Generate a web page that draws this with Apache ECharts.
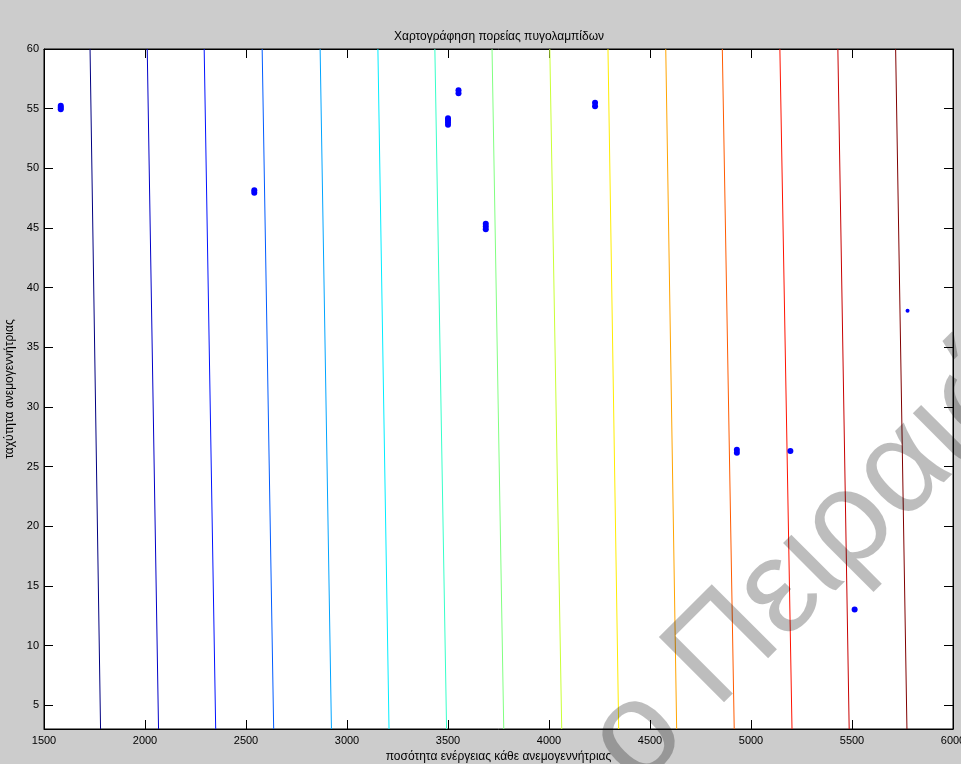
<!DOCTYPE html>
<html>
<head>
<meta charset="utf-8">
<script src="https://cdn.jsdelivr.net/npm/echarts@6/dist/echarts.min.js"></script>
<style>
  html, body { margin: 0; padding: 0; background: #cccccc; }
  #chart { width: 961px; height: 764px; }
</style>
</head>
<body>
<div id="chart"></div>
<script>
// Axis ranges and ticks
const xMin = 1500, xMax = 6000, xStep = 500;
const yMin = 3, yMax = 60;
const yTickValues = [5, 10, 15, 20, 25, 30, 35, 40, 45, 50, 55, 60];

// Contour levels: x position of each iso-line at the bottom (y = 3) and top (y = 60)
const contourXBottom = [1780, 2067, 2350, 2637, 2923, 3208, 3493, 3776, 4063, 4345, 4632, 4917, 5203, 5486, 5772];
const contourXTop    = [1728, 2011, 2293, 2580, 2867, 3153, 3435, 3718, 4004, 4292, 4578, 4858, 5143, 5430, 5716];
const contourColors  = ['#000080', '#0000c8', '#0012ff', '#005bff', '#00a4ff', '#00edff', '#36ffc9',
                        '#80ff80', '#c9ff36', '#ffed00', '#ffa400', '#ff5b00', '#ff1200', '#c80000', '#800000'];

// Firefly positions (energy, speed)
const fireflyX = [1583, 1583, 1583, 2541, 2541, 3552, 3552, 3500, 3500, 3500, 3500,
                  3687, 3687, 3687, 4228, 4228, 4930, 4930, 5195, 5513];
const fireflyY = [54.95, 55.1, 55.25, 47.95, 48.15, 56.3, 56.55, 53.65, 53.85, 54.05, 54.2,
                  44.9, 45.12, 45.35, 55.2, 55.5, 26.15, 26.4, 26.3, 13.02];
const loneFireflyX = [5775];
const loneFireflyY = [38.05];

const titleText = 'Χαρτογράφηση πορείας πυγολαμπίδων';
const xTitle = 'ποσότητα ενέργειας κάθε ανεμογεννήτριας';
const yTitle = 'ταχύτητα ανεμογεννήτριας';
const watermarkText = 'ο Πειραιώς';

const FONT = '"Liberation Sans", Arial, Helvetica, sans-serif';

const series = [];
contourXBottom.forEach((xb, i) => {
  series.push({
    type: 'line',
    data: [[xb, yMin], [contourXTop[i], yMax]],
    showSymbol: false,
    symbol: 'none',
    silent: true,
    animation: false,
    lineStyle: { color: contourColors[i], width: 1 },
    z: 2
  });
});
series.push({
  type: 'scatter',
  data: fireflyX.map((x, i) => [x, fireflyY[i]]),
  symbol: 'circle',
  symbolSize: 6,
  itemStyle: { color: '#0000ff', opacity: 1 },
  animation: false,
  z: 3
});
series.push({
  type: 'scatter',
  data: loneFireflyX.map((x, i) => [x, loneFireflyY[i]]),
  symbol: 'circle',
  symbolSize: 4,
  itemStyle: { color: '#0000ff', opacity: 1 },
  animation: false,
  z: 3
});

const axisLineStyle = { show: true, lineStyle: { color: '#000', width: 1 } };
const tickStyle = { show: true, inside: true, length: 9, lineStyle: { color: '#000', width: 1 } };
const plainNumber = v => String(v);

const option = {
  backgroundColor: '#cccccc',
  animation: false,
  title: {
    text: titleText,
    left: 494,
    textAlign: 'center',
    top: 26,
    textStyle: { fontFamily: FONT, fontSize: 12, fontWeight: 'normal', color: '#000' }
  },
  grid: {
    left: 44, right: 8, top: 49, bottom: 35,
    containLabel: false,
    outerBoundsMode: 'none',
    show: true, backgroundColor: '#ffffff', borderColor: '#000', borderWidth: 1
  },
  xAxis: [
    {
      type: 'value', min: xMin, max: xMax, interval: xStep, position: 'bottom',
      axisLine: axisLineStyle, axisTick: tickStyle, splitLine: { show: false },
      axisLabel: { color: '#000', fontFamily: FONT, fontSize: 11, margin: 6, formatter: plainNumber },
      name: xTitle, nameLocation: 'middle', nameGap: 22,
      nameTextStyle: { color: '#000', fontFamily: FONT, fontSize: 12 }
    },
    {
      type: 'value', min: xMin, max: xMax, interval: xStep, position: 'top',
      axisLine: axisLineStyle, axisTick: tickStyle, splitLine: { show: false },
      axisLabel: { show: false }
    }
  ],
  yAxis: [
    {
      type: 'value', min: yMin, max: yMax, position: 'left',
      axisLine: axisLineStyle,
      axisTick: Object.assign({ customValues: yTickValues }, tickStyle),
      splitLine: { show: false },
      axisLabel: { customValues: yTickValues, color: '#000', fontFamily: FONT, fontSize: 11, margin: 5, formatter: plainNumber },
      name: yTitle, nameLocation: 'middle', nameGap: 28,
      nameTextStyle: { color: '#000', fontFamily: FONT, fontSize: 12 }
    },
    {
      type: 'value', min: yMin, max: yMax, position: 'right',
      axisLine: axisLineStyle,
      axisTick: Object.assign({ customValues: yTickValues }, tickStyle),
      splitLine: { show: false },
      axisLabel: { show: false }
    }
  ],
  graphic: [
    {
      type: 'text',
      x: 611,
      y: 763,
      rotation: Math.PI / 4,
      z: 100,
      silent: true,
      style: {
        text: watermarkText,
        fontFamily: FONT,
        fontSize: 134,
        fill: 'rgba(0,0,0,0.26)',
        align: 'left',
        verticalAlign: 'middle'
      }
    }
  ],
  series: series
};

const chart = echarts.init(document.getElementById('chart'), null, { renderer: 'canvas' });
chart.setOption(option);
</script>
</body>
</html>
